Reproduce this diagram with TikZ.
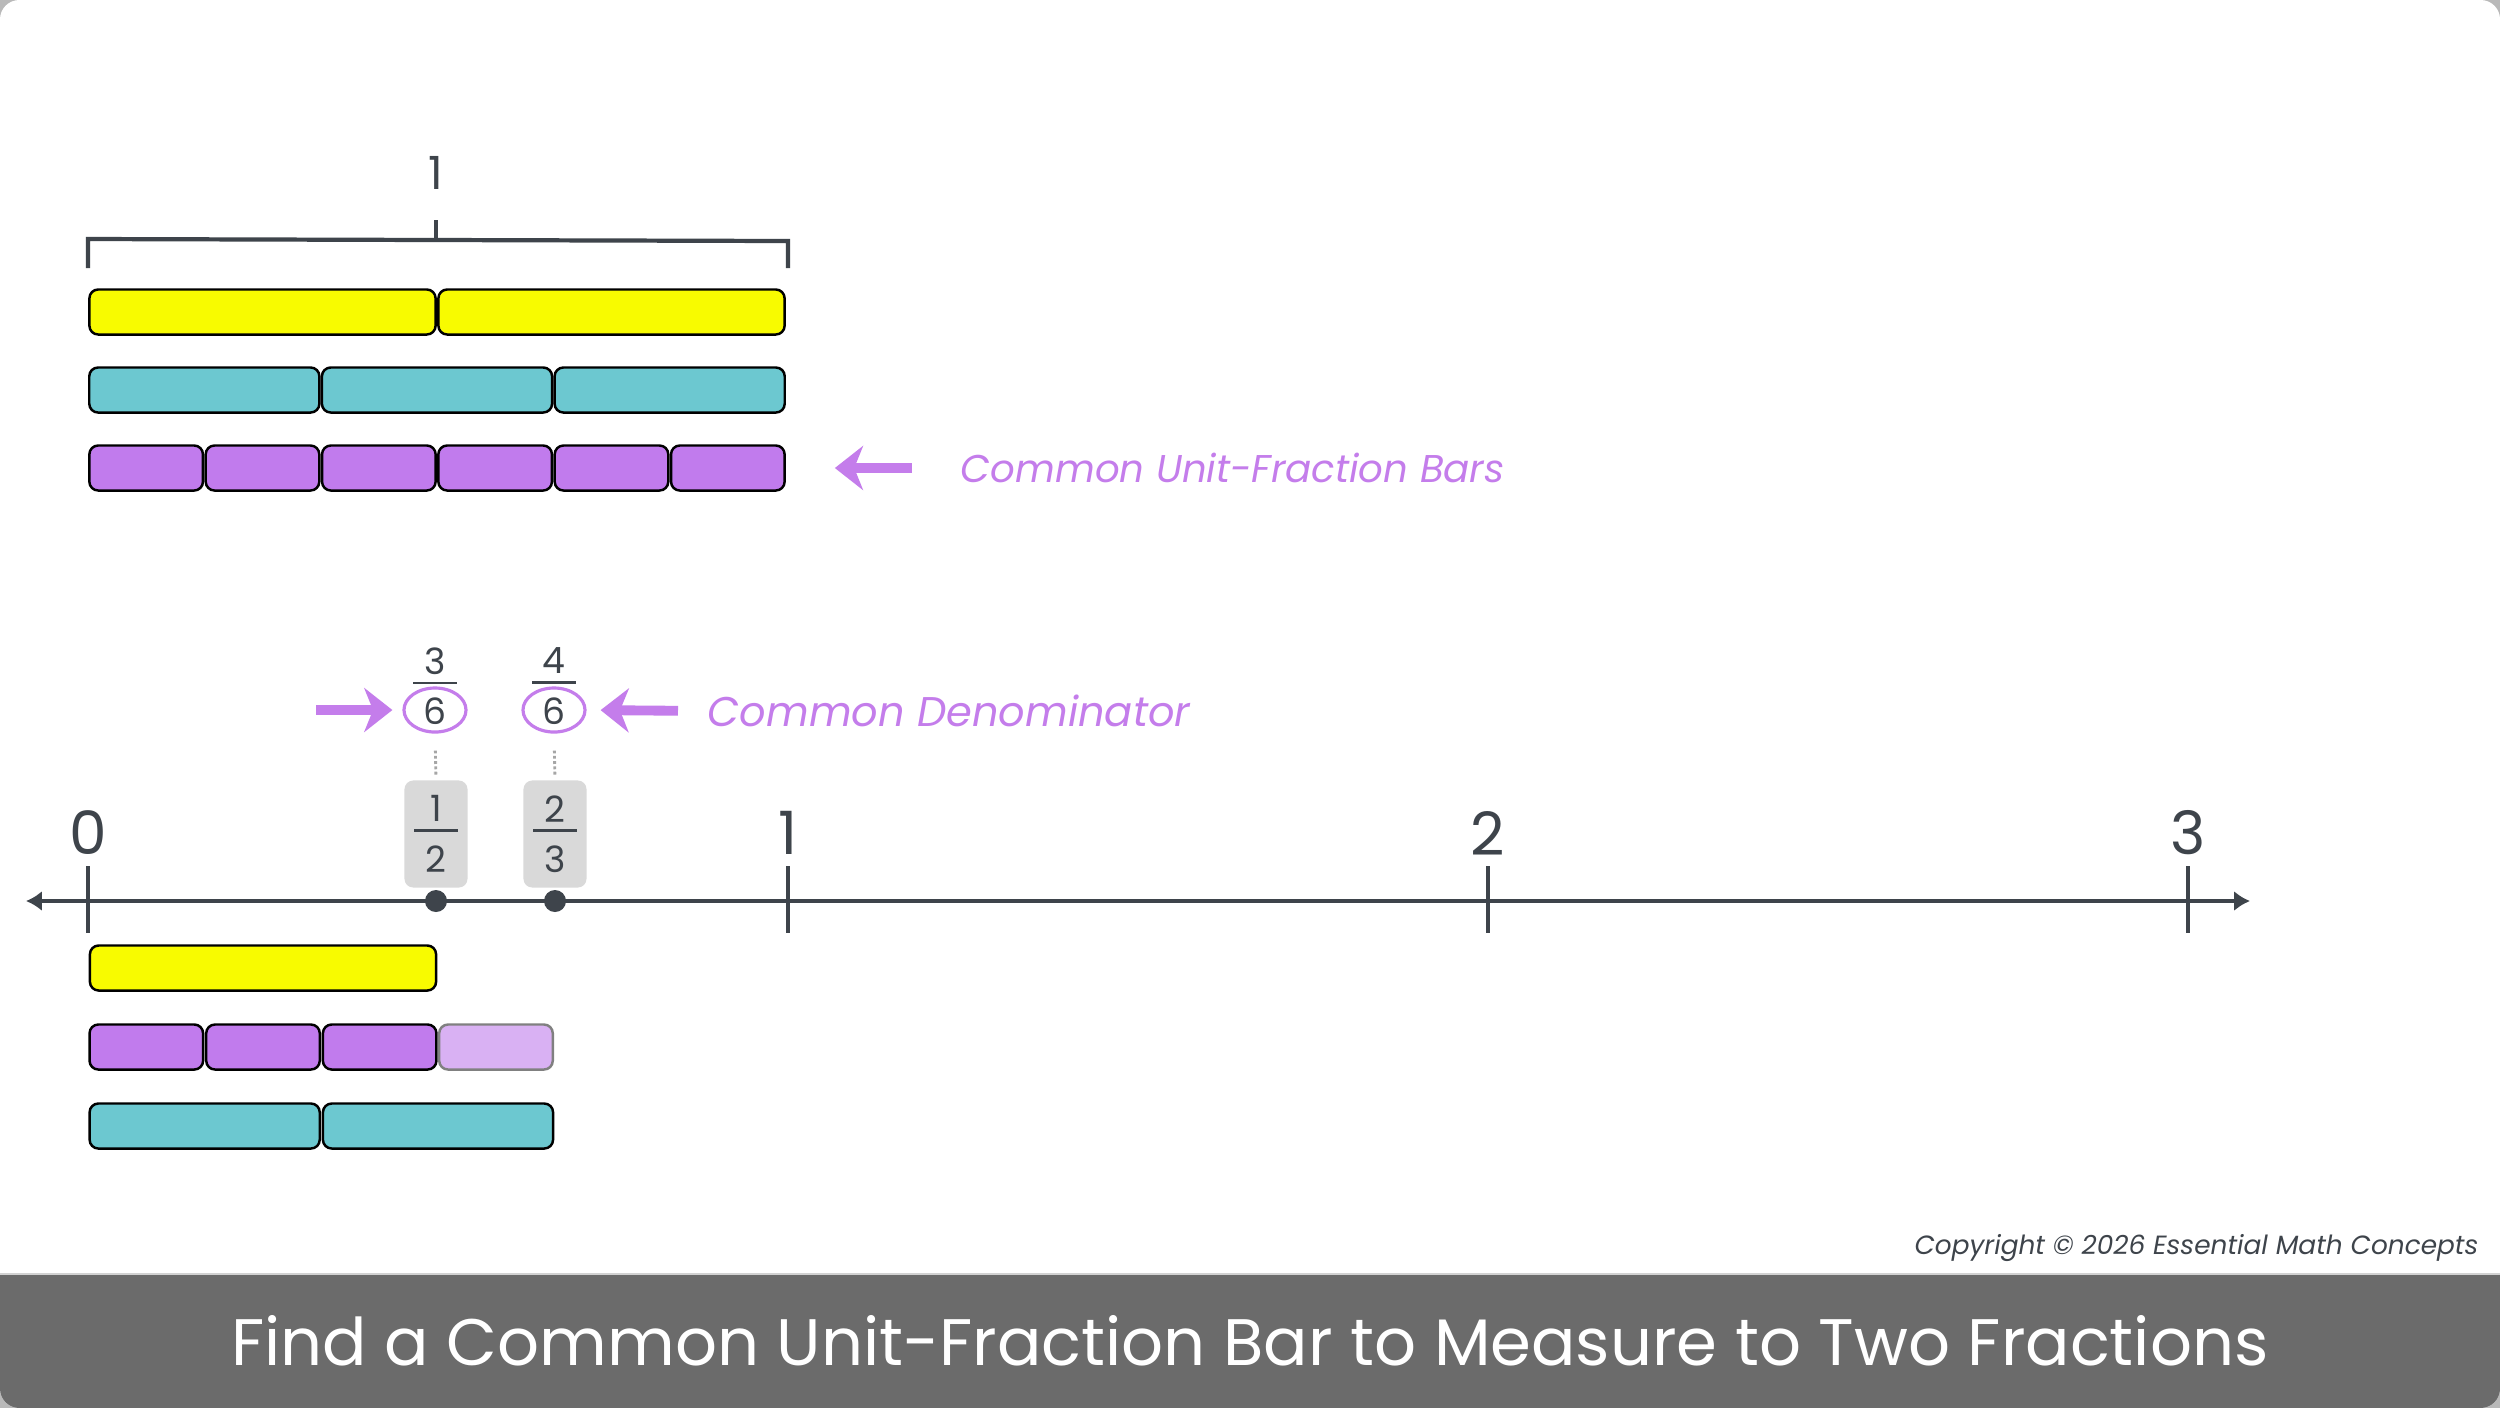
\documentclass[tikz,border=0pt]{standalone}
\usepackage{amsmath}
\usepackage{fontspec}
\setmainfont{Poppins}
\usetikzlibrary{arrows.meta, positioning, shapes.geometric}

\definecolor{halfbar}{HTML}{F8FB00}
\definecolor{thirdbar}{HTML}{6CC8D0}
\definecolor{sixthbar}{HTML}{C17BED}
\definecolor{sixthpale}{HTML}{D9B1F3}
\definecolor{accent}{HTML}{C47DEB}
\definecolor{slate}{HTML}{3E444B}
\definecolor{tagfill}{HTML}{D9D9D9}
\definecolor{band}{HTML}{6B6B6B}

% stacked fraction in the text font
\newcommand{\stackfrac}[2]{$\genfrac{}{}{0.7pt}{0}{\makebox[12.5pt]{\raisebox{-2pt}{#1}}}{\makebox[12.5pt]{\raisebox{-2.5pt}{#2}}}$}

\begin{document}
\begin{tikzpicture}[x=0.01cm, y=-0.01cm,
    seg/.style={rectangle, draw=black, line width=0.7pt, rounded corners=2.5pt, minimum height=0.45cm, inner sep=0pt},
    pointer/.style={draw=accent, line width=2.8pt, -{Stealth[length=8pt, width=12.5pt, inset=2.5pt]}},
    axis/.style={draw=slate, line width=1.4pt, {Latex[length=4.5pt, width=5.7pt]}-{Latex[length=4.5pt, width=5.7pt]}},
    tick/.style={draw=slate, line width=1.2pt},
    frac/.style={font=\fontsize{10.3}{12}\selectfont, text=slate, inner sep=0pt},
    tag/.style={rectangle, fill=tagfill, rounded corners=2.5pt, minimum width=0.63cm, minimum height=1.07cm, inner sep=0pt, font=\fontsize{10.3}{12}\selectfont, text=slate},
    ring/.style={ellipse, draw=accent, line width=0.9pt, minimum width=0.62cm, minimum height=0.44cm, inner sep=0pt},
    guide/.style={draw=gray!70, line width=0.8pt, dash pattern=on 0.8pt off 0.7pt},
    note/.style={font=\fontsize{11}{13}\selectfont\itshape, text=accent, anchor=west, inner sep=0pt}]

    \useasboundingbox (0,0) rectangle (2500,1408);
    % frame and title band
    \fill[gray!55] (0,0) rectangle (2500,1408);
    \fill[white, rounded corners=5.5pt] (0,0) rectangle (2500,1408);
    \begin{scope}
        \clip[rounded corners=5.5pt] (0,0) rectangle (2500,1408);
        \fill[band] (0,1274) rectangle (2500,1408);
        \draw[gray!35, line width=0.6pt] (0,1274) -- (2500,1274);
    \end{scope}

    % whole bracket
    \draw[tick] (88,268) -- (88,239) -- (788,241) -- (788,268);
    \draw[tick] (436,240) -- (436,220);
    \node[font=\fontsize{13}{15}\selectfont, text=slate] (whole) at (436,173) {1};

    % unit-fraction bars
    \foreach \i in {0,1}
        \node[seg, fill=halfbar, minimum width=3.46cm] (half\i) at ({88+349*\i+174.5},312) {};
    \foreach \i in {0,1,2}
        \node[seg, fill=thirdbar, minimum width=2.30cm] (third\i) at ({88+232.67*\i+116.33},390) {};
    \foreach \i in {0,...,5}
        \node[seg, fill=sixthbar, minimum width=1.135cm] (sixth\i) at ({88+116.33*\i+58.17},468) {};

    \node[note] (barsnote) at (960,468) {Common Unit-Fraction Bars};
    \path[pointer, shorten <=0.48cm, shorten >=0.49cm] (barsnote.west) -- (sixth5.east);

    % number line
    \coordinate (axisL) at (26,901);
    \coordinate (axisR) at (2250,901);
    \path[axis] (axisL) -- (axisR);
    \foreach \n in {0,...,3} {
        \draw[tick] ({88+700*\n},866) -- ({88+700*\n},933);
        \node[font=\fontsize{17}{20}\selectfont, text=slate] (num\n) at ({88+700*\n},833) {\n};
    }

    % marked fractions
    \node[tag] (thalf) at (436,834) {\stackfrac{1}{2}};
    \node[tag] (tthird) at (555,834) {\stackfrac{2}{3}};
    \node[circle, fill=slate, minimum size=0.22cm, inner sep=0pt] (dhalf) at (436,901) {};
    \node[circle, fill=slate, minimum size=0.22cm, inner sep=0pt] (dthird) at (555,901) {};

    % equivalent sixths
    \node[frac] (fhalf) at (435,686) {\stackfrac{3}{6}};
    \node[frac] (fthird) at (554,686) {\stackfrac{4}{6}};
    \node[ring] (ringhalf) at (435,710) {};
    \node[ring] (ringthird) at (554,710) {};
    \path[guide, shorten <=0.17cm, shorten >=0.05cm] (ringhalf.south) -- (thalf.north);
    \path[guide, shorten <=0.17cm, shorten >=0.05cm] (ringthird.south) -- (tthird.north);

    \coordinate (dentail) at (316,710);
    \path[pointer, shorten >=0.1cm] (dentail) -- (ringhalf.west);
    \node[note, font=\fontsize{11.8}{14}\selectfont\itshape] (dennote) at (707,711) {Common Denominator};
    \path[pointer, shorten <=0.29cm, shorten >=0.14cm] (dennote.west) -- (ringthird.east);

    % bars measuring 1/2 and 2/3
    \node[seg, fill=halfbar, minimum width=3.46cm] (halfA) at (263,968) {};
    \foreach \i in {0,1,2}
        \node[seg, fill=sixthbar, minimum width=1.135cm] (sixthA\i) at ({88+116.67*\i+58.33},1047) {};
    \node[seg, draw=gray, fill=sixthpale, minimum width=1.135cm] (sixthA3) at (496,1047) {};
    \foreach \i in {0,1}
        \node[seg, fill=thirdbar, minimum width=2.30cm] (thirdA\i) at ({88+233.33*\i+116.67},1126) {};

    % footer
    \node[anchor=east, inner sep=0pt, font=\fontsize{7.5}{9}\selectfont\itshape, text=slate] (copy) at (2479,1248) {Copyright © 2026 Essential Math Concepts};
    \node[font=\fontsize{18.7}{23}\selectfont, text=white] (title) at (1250,1341) {Find a Common Unit-Fraction Bar to Measure to Two Fractions};
\end{tikzpicture}
\end{document}
